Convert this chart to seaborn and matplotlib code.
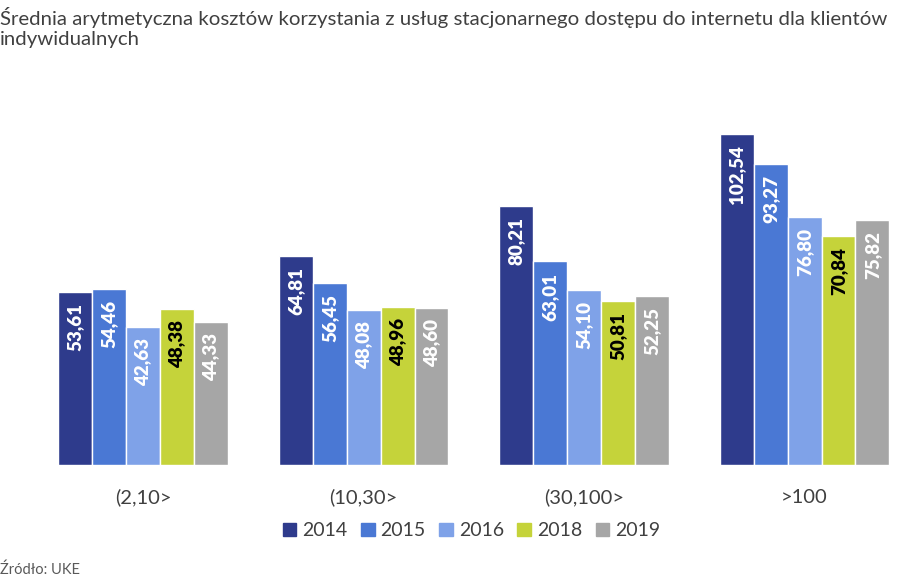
import matplotlib
matplotlib.use("Agg")
import matplotlib.pyplot as plt
import seaborn as sns
import pandas as pd

zakresy = ["(2,10>", "(10,30>", "(30,100>", ">100"]
lata = ["2014", "2015", "2016", "2018", "2019"]
koszt_2014 = [53.61, 64.81, 80.21, 102.54]
koszt_2015 = [54.46, 56.45, 63.01, 93.27]
koszt_2016 = [42.63, 48.08, 54.10, 76.80]
koszt_2018 = [48.38, 48.96, 50.81, 70.84]
koszt_2019 = [44.33, 48.60, 52.25, 75.82]
kolory = ["#2E3B8C", "#4A78D4", "#7FA2E8", "#C5D33A", "#A6A6A6"]
kolor_etykiet = ["white", "white", "white", "black", "white"]

serie = [koszt_2014, koszt_2015, koszt_2016, koszt_2018, koszt_2019]
rows = []
for rok, wartosci in zip(lata, serie):
    for z, v in zip(zakresy, wartosci):
        rows.append({"zakres": z, "rok": rok, "koszt": v})
df = pd.DataFrame(rows)

sns.set_theme(style="white")
plt.rcParams['font.family'] = ['Lato', 'DejaVu Sans']

fig = plt.figure(figsize=(9, 5.84), dpi=100)
ax = fig.add_axes([0.0, 0.2038, 1.0, 0.6084])

sns.barplot(data=df, x="zakres", y="koszt", hue="rok", palette=kolory,
            width=0.77, saturation=1, edgecolor="white", linewidth=1,
            errorbar=None, ax=ax, legend=True)

ax.set_xlim(-0.649, 3.433)
ax.set_ylim(0, 110)
ax.set_xlabel("")
ax.set_ylabel("")
ax.set_yticks([])
sns.despine(ax=ax, left=True, bottom=True)
ax.tick_params(axis="x", length=0, labelsize=14.5, labelcolor="#404040", pad=17)

for cont, kol in zip(ax.containers, kolor_etykiet):
    for p in cont:
        h = p.get_height()
        ax.annotate(f"{h:.2f}".replace(".", ","),
                    (p.get_x() + p.get_width() / 2, h),
                    xytext=(0, -8), textcoords="offset points",
                    rotation=90, ha="center", va="top",
                    fontsize=13.5, fontweight="heavy", color=kol)

ax.legend_.remove()
handles = [plt.Rectangle((0, 0), 1, 1, color=c) for c in kolory]
fig.legend(handles, lata, loc="center", bbox_to_anchor=(0.524, 0.091),
           ncol=5, frameon=False, fontsize=14, handlelength=0.7,
           handleheight=0.7, handletextpad=0.3, columnspacing=0.7,
           labelcolor="#404040")

fig.text(0.0, 0.988, "Średnia arytmetyczna kosztów korzystania z usług stacjonarnego dostępu do internetu dla klientów\nindywidualnych",
         ha="left", va="top", fontsize=14.7, color="#404040", linespacing=1.2)
fig.text(0.0, 0.012, "Źródło: UKE", ha="left", va="bottom", fontsize=10.5, color="#595959")

fig.savefig("out.png", dpi=100)
